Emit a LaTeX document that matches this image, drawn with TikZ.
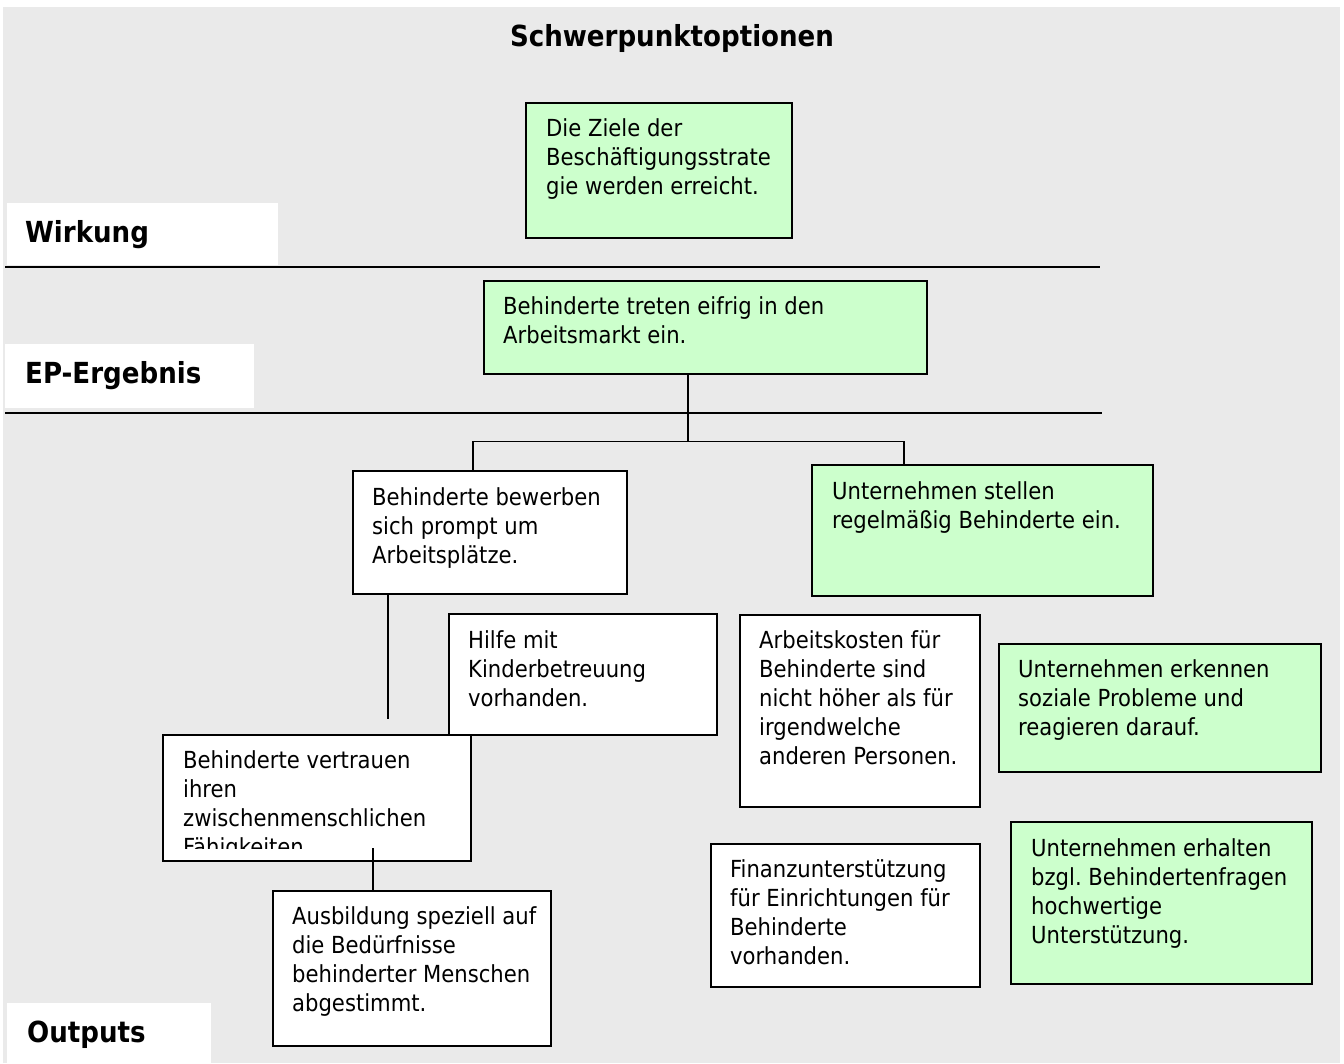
\documentclass[tikz,border=0pt]{standalone}
\usepackage{fontspec}
\setmainfont{DejaVu Sans Condensed}
\usepackage{tikz}
\usetikzlibrary{calc,positioning}
\definecolor{panelgrey}{HTML}{EAEAEA}
\definecolor{boxgreen}{HTML}{CCFFCC}
\frenchspacing

\tikzset{
  basebox/.style={draw=black, line width=1.6pt, anchor=north west, inner sep=0pt},
  whitebox/.style={basebox, fill=white},
  greenbox/.style={basebox, fill=boxgreen},
  boxtext/.style={anchor=north west, inner sep=0pt, align=left,
    font=\fontsize{23.5}{29}\selectfont},
  levelbox/.style={fill=white, anchor=north west, inner sep=0pt},
  leveltext/.style={anchor=base west, inner sep=0pt, font=\fontsize{29}{32}\selectfont\bfseries},
  link/.style={line width=1.4pt},
}

\begin{document}
\begin{tikzpicture}[x=1pt, y=-1pt]

  \useasboundingbox (0,0) rectangle (1344,1063);
  \fill[panelgrey] (3,7) rectangle (1340,1063);

  % ================= TITLE =================
  \node[anchor=base, inner sep=0pt, font=\fontsize{29}{32}\selectfont\bfseries] (title)
    at (672,46) {Schwerpunktoptionen};

  % ================= LEVELS =================
  \draw[line width=1.4pt] (5,267) -- (1100,267);
  \draw[line width=1.4pt] (5,413) -- (1102,413);

  \node[levelbox, minimum width=271, minimum height=62] (wirkung) at (7,203) {};
  \node[leveltext] (wirkung-t) at (25,242) {Wirkung};

  \node[levelbox, minimum width=249, minimum height=64] (ergebnis) at (5,344) {};
  \node[leveltext] (ergebnis-t) at (25,383) {EP-Ergebnis};

  \node[levelbox, minimum width=204, minimum height=60] (outputs) at (7,1003) {};
  \node[leveltext] (outputs-t) at (27,1042) {Outputs};

  % ================= BOXES =================
  % Wirkung
  \node[greenbox, minimum width=266, minimum height=135] (ziele) at (525,102) {};
  \node[boxtext] (ziele-t) at ($(ziele.north west)+(21,16)$)
    {Die Ziele der\\Beschäftigungsstrate\\gie werden erreicht.};

  % EP-Ergebnis
  \node[greenbox, minimum width=443, minimum height=93] (ep) at (483,280) {};
  \node[boxtext] (ep-t) at ($(ep.north west)+(20,16)$)
    {Behinderte treten eifrig in den\\Arbeitsmarkt ein.};

  % Outputs, left branch
  \node[whitebox, minimum width=274, minimum height=123] (bewerben) at (352,470) {};
  \node[boxtext] (bewerben-t) at ($(bewerben.north west)+(20,17)$)
    {Behinderte bewerben\\sich prompt um\\Arbeitsplätze.};

  \node[whitebox, minimum width=268, minimum height=121] (hilfe) at (448,613) {};
  \node[boxtext] (hilfe-t) at ($(hilfe.north west)+(20,17)$)
    {Hilfe mit\\Kinderbetreuung\\vorhanden.};

  \node[whitebox, minimum width=308, minimum height=126] (vertrauen) at (162,734) {};
  \begin{scope}
    \clip (164,736) rectangle (468,848);
    \node[boxtext] (vertrauen-t) at ($(vertrauen.north west)+(21,16)$)
      {Behinderte vertrauen\\ihren\\zwischenmenschlichen\\Fähigkeiten};
  \end{scope}

  \node[whitebox, minimum width=278, minimum height=155] (ausbildung) at (272,890) {};
  \node[boxtext] (ausbildung-t) at ($(ausbildung.north west)+(20,16)$)
    {Ausbildung speziell auf\\die Bedürfnisse\\behinderter Menschen\\abgestimmt.};

  % Outputs, right branch
  \node[greenbox, minimum width=341, minimum height=131] (stellen) at (811,464) {};
  \node[boxtext] (stellen-t) at ($(stellen.north west)+(21,17)$)
    {Unternehmen stellen\\regelmäßig Behinderte ein.};

  \node[whitebox, minimum width=240, minimum height=192] (kosten) at (739,614) {};
  \node[boxtext] (kosten-t) at ($(kosten.north west)+(20,16)$)
    {Arbeitskosten für\\Behinderte sind\\nicht höher als für\\irgendwelche\\anderen Personen.};

  \node[greenbox, minimum width=322, minimum height=128] (erkennen) at (998,643) {};
  \node[boxtext] (erkennen-t) at ($(erkennen.north west)+(20,16)$)
    {Unternehmen erkennen\\soziale Probleme und\\reagieren darauf.};

  \node[whitebox, minimum width=269, minimum height=143] (finanz) at (710,843) {};
  \node[boxtext] (finanz-t) at ($(finanz.north west)+(20,16)$)
    {Finanzunterstützung\\für Einrichtungen für\\Behinderte\\vorhanden.};

  \node[greenbox, minimum width=301, minimum height=162] (erhalten) at (1010,821) {};
  \node[boxtext] (erhalten-t) at ($(erhalten.north west)+(21,17)$)
    {Unternehmen erhalten\\bzgl. Behindertenfragen\\hochwertige\\Unterstützung.};

  % ================= CONNECTORS =================
  \draw[link] ($(ziele.south west)+(146,0)$) -- ($(ziele.south west)+(146,0)$ |- ep.north);

  \coordinate (fork) at ($(ep.south west)+(205,67)$);
  \draw[link] ($(ep.south west)+(205,0)$) -- (fork);
  \draw[link] ($(bewerben.north west)+(121,0)$) |- (fork) -| ($(stellen.north west)+(93,0)$);

  \draw[link] ($(bewerben.south west)+(223,0)$) -- ($(bewerben.south west)+(223,0)$ |- hilfe.north);
  \draw[link] ($(bewerben.south west)+(36,0)$) -- ($(vertrauen.north west)+(226,-15)$);
  \draw[link] ($(ausbildung.north west)+(101,-42)$) -- ($(ausbildung.north west)+(101,0)$);

  \draw[link] ($(stellen.south west)+(93,0)$) -- ($(stellen.south west)+(93,0)$ |- kosten.north);
  \draw[link] ($(stellen.south west)+(265,0)$) -- ($(stellen.south west)+(265,0)$ |- erkennen.north);
  \draw[link] ($(kosten.south west)+(158,0)$) -- ($(kosten.south west)+(158,0)$ |- finanz.north);
  \draw[link] ($(erkennen.south west)+(80,0)$) -- ($(erkennen.south west)+(80,0)$ |- erhalten.north);

\end{tikzpicture}
\end{document}
